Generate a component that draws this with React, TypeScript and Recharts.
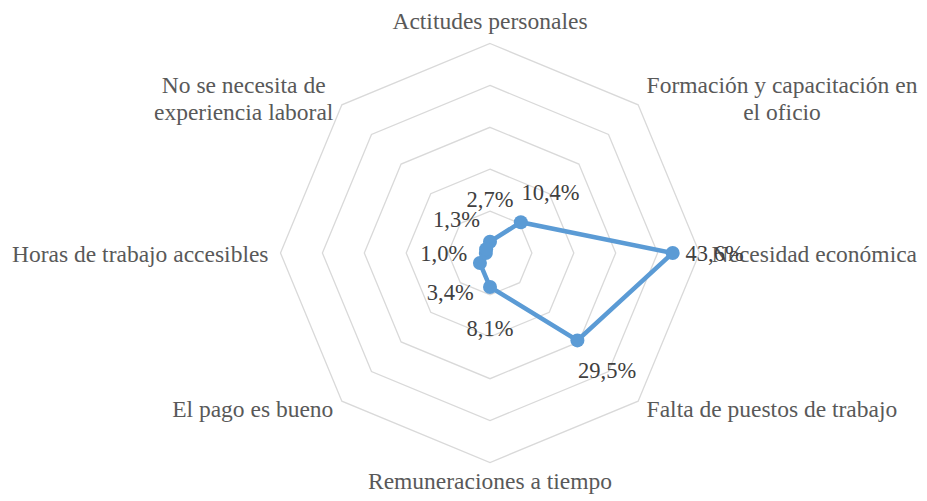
import { RadarChart, Radar, PolarGrid, PolarAngleAxis, PolarRadiusAxis, LabelList } from "recharts";

const categories = [
  "Actitudes personales",
  "Formación y capacitación en el oficio",
  "Necesidad económica",
  "Falta de puestos de trabajo",
  "Remuneraciones a tiempo",
  "El pago es bueno",
  "Horas de trabajo accesibles",
  "No se necesita de experiencia laboral",
];
const values = [2.7, 10.4, 43.6, 29.5, 8.1, 3.4, 1.0, 1.3];
const wrapped: Record<string, string[]> = {
  "Formación y capacitación en el oficio": ["Formación y capacitación en", "el oficio"],
  "No se necesita de experiencia laboral": ["No se necesita de", "experiencia laboral"],
};

const data = categories.map((c, i) => ({ category: c, value: values[i] }));

const W = 927;
const H = 501;
const CX = 490;
const CY = 253;
const R = 209.5;
const FONT = "Liberation Serif";
const CAT_SIZE = 23.5;
const LABEL_SIZE = 22.5;
const LINE_H = 27;

let ctx: CanvasRenderingContext2D | null = null;
const measure = (s: string) => {
  if (!ctx) ctx = document.createElement("canvas").getContext("2d");
  if (!ctx) return s.length * CAT_SIZE * 0.45;
  ctx.font = `${CAT_SIZE}px "Liberation Serif"`;
  return ctx.measureText(s).width;
};

const CategoryTick = (props: any) => {
  const { x, y, payload } = props;
  const dx = x - CX;
  const dy = y - CY;
  const len = Math.hypot(dx, dy) || 1;
  const ux = dx / len;
  const uy = dy / len;
  const vx = CX + ux * R;
  const vy = CY + uy * R;
  const lines = wrapped[payload.value] ?? [payload.value];
  const n = lines.length;
  let anchor: "start" | "end" | "middle" = "middle";
  if (ux > 0.1) anchor = "start";
  else if (ux < -0.1) anchor = "end";
  const ax = vx + ux * 12;
  let firstBase: number;
  if (anchor === "middle") {
    firstBase = uy < 0 ? vy - 15 - (n - 1) * LINE_H : vy + 26;
  } else {
    const centerY = vy + uy * 10;
    firstBase = centerY - ((n - 1) * LINE_H) / 2 + 8.5;
  }
  let tx = ax;
  let ta: string = anchor;
  if (n > 1 && anchor !== "middle") {
    const w = Math.max(...lines.map(measure));
    tx = anchor === "start" ? ax + w / 2 : ax - w / 2;
    ta = "middle";
  }
  return (
    <text x={tx} y={firstBase} textAnchor={ta as any} fill="#595959" fontSize={CAT_SIZE} style={{ fontFamily: FONT }}>
      {lines.map((l, i) => (
        <tspan key={i} x={tx} y={firstBase + i * LINE_H}>
          {l}
        </tspan>
      ))}
    </text>
  );
};

const ValueLabel = (props: any) => {
  const x = props.x ?? props.viewBox?.x;
  const y = props.y ?? props.viewBox?.y;
  const { value, index } = props;
  const ang = ((90 - (index * 360) / categories.length) * Math.PI) / 180;
  const ux = Math.cos(ang);
  const uy = -Math.sin(ang);
  const off = 42;
  return (
    <text
      x={x + ux * off}
      y={y + uy * off}
      textAnchor="middle"
      dominantBaseline="central"
      fill="#404040"
      fontSize={LABEL_SIZE}
      style={{ fontFamily: FONT }}
    >
      {`${Number(value).toFixed(1).replace(".", ",")}%`}
    </text>
  );
};

export default function App() {
  return (
    <div style={{ position: "absolute", left: 0, top: 0, width: W, height: H, background: "#fff" }}>
      <RadarChart width={W} height={H} data={data} cx={CX} cy={CY} outerRadius={R} margin={{ top: 0, right: 0, bottom: 0, left: 0 }}>
        <PolarGrid gridType="polygon" radialLines={false} stroke="#d9d9d9" strokeWidth={1.3} />
        <PolarAngleAxis dataKey="category" tick={<CategoryTick />} tickLine={false} axisLine={false} />
        <PolarRadiusAxis domain={[0, 50]} tickCount={6} tick={false} axisLine={false} />
        <Radar
          dataKey="value"
          stroke="#5B9BD5"
          strokeWidth={4.5}
          fill="none"
          fillOpacity={0}
          dot={{ r: 7, fill: "#5B9BD5", stroke: "#5B9BD5", strokeWidth: 0, fillOpacity: 1 }}
          isAnimationActive={false}
        >
          <LabelList dataKey="value" content={<ValueLabel />} />
        </Radar>
      </RadarChart>
    </div>
  );
}
